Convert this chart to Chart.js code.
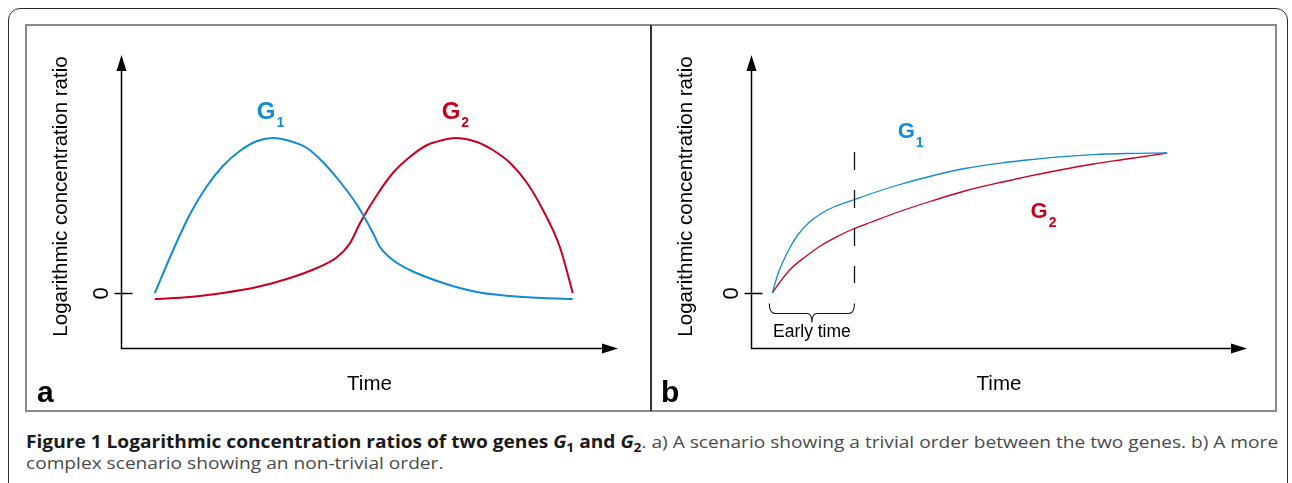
<!DOCTYPE html>
<html>
<head>
<meta charset="utf-8">
<script src="https://cdn.jsdelivr.net/npm/chart.js@4.4.0/dist/chart.umd.min.js"></script>
<style>
  html, body { margin: 0; padding: 0; background: #fff; }
  body { width: 1292px; height: 483px; position: relative; overflow: hidden; font-family: "Liberation Sans", Arial, sans-serif; }
  #frame { position: absolute; left: 8px; top: 8px; width: 1280px; height: 520px; border: 1.5px solid #2b2b2b; border-radius: 12px; box-sizing: border-box; }
  .panel { position: absolute; top: 24px; }
  #box { position: absolute; left: 25px; top: 24px; width: 1252px; height: 388px; border: 2px solid #8a8a8a; box-sizing: border-box; pointer-events: none; }
  #divider { position: absolute; left: 650px; top: 25px; width: 1.5px; height: 386px; background: #333; }
  .cap { position: absolute; left: 26px; font-family: "Open Sans", sans-serif; font-size: 17px; color: #4a4a4a; white-space: nowrap; transform-origin: 0 50%; line-height: 20px; }
  .cap b { color: #1a1a1a; }
  .cap sub { font-size: 0.72em; vertical-align: -0.3em; line-height: 0; }
</style>
</head>
<body>
<div id="frame"></div>
<canvas id="chartA" class="panel" width="626" height="387" style="left:25px"></canvas>
<canvas id="chartB" class="panel" width="625" height="387" style="left:651px"></canvas>
<div id="box"></div>
<div id="divider"></div>
<div class="cap" id="cap1" style="top:432px"><b>Figure 1 Logarithmic concentration ratios of two genes <i>G</i><sub>1</sub> and <i>G</i><sub>2</sub></b>. a) A scenario showing a trivial order between the two genes. b) A more</div>
<div class="cap" id="cap2" style="top:453px">complex scenario showing an non-trivial order.</div>

<script>
// panel a: trivial order
const timeA_G1 = [6.8, 10.5, 13.9, 17.3, 20.5, 23.9, 27.4, 30.6, 34.0, 37.4, 40.6, 44.1, 47.5, 50.7, 52.1, 54.7, 58.1, 64.8, 71.6, 78.3, 84.9, 90.9];
const ratioA_G1 = [0, 4.3, 7.9, 10.7, 12.7, 14.2, 15.2, 15.5, 15.2, 14.5, 13.1, 11.1, 8.8, 6.0, 4.6, 3.3, 2.3, 1.0, 0.1, -0.3, -0.5, -0.6];
const timeA_G2 = [6.8, 13.9, 20.5, 27.4, 34.0, 39.4, 43.5, 46.1, 48.1, 51.5, 54.7, 58.1, 61.6, 64.8, 67.2, 71.6, 74.8, 78.3, 81.7, 84.9, 88.3, 90.9];
const ratioA_G2 = [-0.6, -0.4, 0, 0.6, 1.5, 2.5, 3.6, 5.0, 7.0, 9.8, 12.0, 13.6, 14.8, 15.3, 15.5, 15.1, 14.3, 13.0, 11.0, 8.3, 4.6, 0];

// panel b: non-trivial order
const timeB_G1 = [4.3, 5.5, 6.9, 8.2, 9.5, 11.6, 14.3, 16.9, 20.6, 24.3, 29.7, 36.4, 43.1, 51.2, 55.6, 62.3, 69.0, 75.8, 83.9];
const ratioB_G1 = [0, 2.0, 3.6, 4.85, 5.85, 7.0, 8.0, 8.65, 9.3, 9.95, 10.8, 11.7, 12.45, 13.05, 13.3, 13.62, 13.84, 13.95, 14.0];
const timeB_G2 = [4.3, 6.2, 8.2, 10.9, 14.3, 17.6, 20.6, 24.3, 29.7, 36.4, 43.1, 51.2, 55.6, 62.3, 69.0, 75.8, 83.9];
const ratioB_G2 = [0, 1.33, 2.5, 3.6, 4.8, 5.7, 6.4, 7.1, 8.1, 9.2, 10.2, 11.15, 11.63, 12.3, 12.9, 13.4, 14.0];
const earlyTimeEnd = 20.7;

const BLUE = '#118bd3';
const RED = '#c8001e';

const pts = (xs, ys) => xs.map((x, i) => ({ x: x, y: ys[i] }));

// axes with arrows, zero tick, titles and annotations
const sketchPlugin = {
    id: 'sketch',
    afterDraw(chart, args, o) {
        const { ctx, chartArea: a, scales: { x, y } } = chart;
        const y0 = Math.round(y.getPixelForValue(0)) + 0.5;
        const left = Math.round(a.left) + 0.5;
        const bottom = Math.round(a.bottom) + 0.5;
        ctx.save();
        ctx.strokeStyle = '#000';
        ctx.fillStyle = '#000';
        ctx.lineWidth = 1.5;

        ctx.beginPath();
        ctx.moveTo(left, a.top + 12);
        ctx.lineTo(left, bottom);
        ctx.lineTo(a.right - 12, bottom);
        ctx.stroke();

        ctx.beginPath();
        ctx.moveTo(left, a.top);
        ctx.lineTo(left - 5, a.top + 16);
        ctx.lineTo(left + 5, a.top + 16);
        ctx.closePath();
        ctx.fill();
        ctx.beginPath();
        ctx.moveTo(a.right, bottom);
        ctx.lineTo(a.right - 16, bottom - 5);
        ctx.lineTo(a.right - 16, bottom + 5);
        ctx.closePath();
        ctx.fill();

        // zero tick
        ctx.beginPath();
        ctx.moveTo(left - 7, y0);
        ctx.lineTo(left + 11, y0);
        ctx.stroke();

        ctx.textAlign = 'center';
        ctx.textBaseline = 'middle';
        ctx.font = '22px "Liberation Sans", Arial, sans-serif';
        ctx.save();
        ctx.translate(left - 21, y0);
        ctx.rotate(-Math.PI / 2);
        ctx.fillText('0', 0, 1);
        ctx.restore();

        ctx.font = '20.5px "Liberation Sans", Arial, sans-serif';
        ctx.save();
        ctx.translate(left - o.titleOffset, (a.top + a.bottom) / 2 - 5);
        ctx.rotate(-Math.PI / 2);
        ctx.fillText('Logarithmic concentration ratio', 0, 0);
        ctx.restore();

        ctx.fillText('Time', (a.left + a.right) / 2, a.bottom + 36);

        ctx.font = 'bold 30px "Liberation Sans", Arial, sans-serif';
        ctx.textAlign = 'left';
        ctx.textBaseline = 'alphabetic';
        ctx.fillText(o.letter, o.letterX, a.bottom + 54);

        // series names
        o.names.forEach(n => {
            const px = x.getPixelForValue(n.x);
            const py = y.getPixelForValue(n.y);
            ctx.fillStyle = n.color;
            ctx.font = 'bold ' + n.size + 'px "Liberation Sans", Arial, sans-serif';
            ctx.textAlign = 'center';
            ctx.textBaseline = 'middle';
            ctx.fillText('G', px, py);
            const w = ctx.measureText('G').width;
            ctx.font = 'bold 14px "Liberation Sans", Arial, sans-serif';
            ctx.textAlign = 'left';
            ctx.fillText(n.sub, px + w / 2 + 1, py + 11);
        });

        if (o.early) {
            const ex = Math.round(x.getPixelForValue(o.early.end)) + 0.5;
            ctx.strokeStyle = '#111';
            ctx.lineWidth = 1.3;
            ctx.setLineDash([18, 20]);
            ctx.beginPath();
            ctx.moveTo(ex, y.getPixelForValue(14.1));
            ctx.lineTo(ex, y.getPixelForValue(1.0));
            ctx.stroke();
            ctx.setLineDash([]);

            // brace under the early interval
            const bl = x.getPixelForValue(o.early.start) - 3;
            const br = ex;
            const cx = (bl + br) / 2;
            const top = y0 + 10, mid = y0 + 20, tip = y0 + 29;
            ctx.lineWidth = 1.1;
            ctx.beginPath();
            ctx.moveTo(bl, top);
            ctx.quadraticCurveTo(bl, mid, bl + 6, mid);
            ctx.lineTo(cx - 5, mid);
            ctx.quadraticCurveTo(cx, mid, cx, tip);
            ctx.quadraticCurveTo(cx, mid, cx + 5, mid);
            ctx.lineTo(br - 6, mid);
            ctx.quadraticCurveTo(br, mid, br, top);
            ctx.stroke();

            ctx.fillStyle = '#000';
            ctx.font = '17.5px "Liberation Sans", Arial, sans-serif';
            ctx.textAlign = 'center';
            ctx.textBaseline = 'middle';
            ctx.fillText('Early time', cx, y0 + 39);
        }
        ctx.restore();
    }
};

function makeChart(id, datasets, padRight, padLeft, opts) {
    return new Chart(document.getElementById(id), {
        type: 'scatter',
        data: { datasets: datasets },
        options: {
            responsive: false,
            animation: false,
            devicePixelRatio: 1,
            layout: { padding: { left: padLeft, right: padRight, top: 31, bottom: 63 } },
            scales: {
                x: { type: 'linear', min: 0, max: 100, display: false },
                y: { type: 'linear', min: -5.5, max: 23.8, display: false }
            },
            elements: { point: { radius: 0 } },
            plugins: { legend: { display: false }, tooltip: { enabled: false }, sketch: opts }
        },
        plugins: [sketchPlugin]
    });
}

function line(label, data, color, width) {
    return {
        label: label,
        data: data,
        showLine: true,
        borderColor: color,
        borderWidth: width,
        cubicInterpolationMode: 'monotone',
        pointRadius: 0,
        fill: false
    };
}

makeChart('chartA', [
    line('G1', pts(timeA_G1, ratioA_G1), BLUE, 2),
    line('G2', pts(timeA_G2, ratioA_G2), RED, 2)
], 33, 96, {
    letter: 'a', letterX: 12, titleOffset: 60,
    names: [
        { sub: '1', x: 29.2, y: 18.1, color: BLUE, size: 24 },
        { sub: '2', x: 66.4, y: 18.1, color: RED, size: 24 }
    ]
});

makeChart('chartB', [
    line('G1', pts(timeB_G1, ratioB_G1), BLUE, 1.3),
    line('G2', pts(timeB_G2, ratioB_G2), RED, 1.3)
], 29, 100, {
    letter: 'b', letterX: 10, titleOffset: 65,
    names: [
        { sub: '1', x: 31.3, y: 16.1, color: BLUE, size: 22 },
        { sub: '2', x: 58.1, y: 8.1, color: RED, size: 22 }
    ],
    early: { start: timeB_G1[0], end: earlyTimeEnd }
});

// fit the caption's first line to the figure width
const cap1 = document.getElementById('cap1');
const cap2 = document.getElementById('cap2');
const k = 1252 / cap1.scrollWidth;
cap1.style.transform = 'scaleX(' + k + ')';
cap2.style.transform = 'scaleX(' + k + ')';
</script>
</body>
</html>
